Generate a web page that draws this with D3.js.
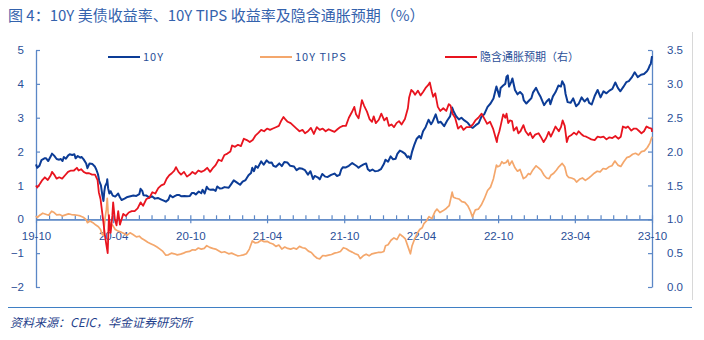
<!DOCTYPE html>
<html><head><meta charset="utf-8">
<script src="https://cdn.jsdelivr.net/npm/d3@7"></script>
<style>
html,body{margin:0;padding:0;background:#fff;}
svg{display:block;}
</style></head>
<body>
<svg id="c" width="704" height="340"></svg>
<script>
// ---- data ----
const titleText = "图 4：10Y 美债收益率、10Y TIPS 收益率及隐含通胀预期（%）";
const sourceText = "资料来源：CEIC，华金证券研究所";
const seriesNames = ["10Y", "10Y TIPS", "隐含通胀预期（右）"];
const xTickLabels = ["19-10","20-04","20-10","21-04","21-10","22-04","22-10","23-04","23-10"];
const leftTicks = [-2,-1,0,1,2,3,4,5];
const rightTicks = [0,0.5,1,1.5,2,2.5,3,3.5];

const tenY = [
["2019-10-01",1.62],["2019-10-04",1.52],["2019-10-09",1.58],["2019-10-14",1.75],["2019-10-21",1.80],["2019-10-25",1.80],["2019-10-30",1.72],["2019-11-05",1.86],["2019-11-08",1.94],["2019-11-13",1.88],["2019-11-19",1.78],["2019-11-25",1.76],["2019-11-29",1.78],["2019-12-03",1.72],["2019-12-06",1.84],["2019-12-11",1.79],["2019-12-16",1.88],["2019-12-20",1.92],["2019-12-26",1.90],["2019-12-31",1.92],
["2020-01-03",1.80],["2020-01-08",1.87],["2020-01-14",1.82],["2020-01-17",1.84],["2020-01-22",1.77],["2020-01-28",1.65],["2020-01-31",1.51],["2020-02-05",1.65],["2020-02-12",1.63],["2020-02-18",1.55],["2020-02-21",1.47],["2020-02-25",1.33],["2020-02-28",1.13],["2020-03-03",1.00],["2020-03-06",0.74],["2020-03-09",0.54],["2020-03-11",0.82],["2020-03-13",0.98],["2020-03-17",1.08],["2020-03-18",1.18],["2020-03-20",0.92],["2020-03-23",0.76],["2020-03-26",0.83],["2020-03-31",0.70],["2020-04-06",0.67],["2020-04-13",0.76],["2020-04-17",0.65],["2020-04-21",0.57],["2020-04-28",0.61],["2020-05-05",0.66],["2020-05-12",0.68],["2020-05-19",0.70],["2020-05-26",0.69],["2020-06-02",0.74],["2020-06-05",0.90],["2020-06-09",0.84],["2020-06-12",0.71],["2020-06-19",0.70],["2020-06-26",0.64],["2020-07-02",0.68],["2020-07-09",0.61],["2020-07-16",0.63],["2020-07-23",0.59],["2020-07-30",0.55],["2020-08-04",0.52],["2020-08-10",0.58],["2020-08-14",0.71],["2020-08-20",0.65],["2020-08-26",0.69],["2020-08-31",0.72],["2020-09-04",0.72],["2020-09-10",0.68],["2020-09-17",0.69],["2020-09-23",0.68],["2020-09-30",0.69],
["2020-10-05",0.78],["2020-10-09",0.78],["2020-10-14",0.73],["2020-10-21",0.82],["2020-10-27",0.77],["2020-10-30",0.87],["2020-11-04",0.76],["2020-11-09",0.96],["2020-11-13",0.89],["2020-11-18",0.87],["2020-11-24",0.88],["2020-11-30",0.84],["2020-12-04",0.97],["2020-12-10",0.91],["2020-12-16",0.92],["2020-12-21",0.95],["2020-12-31",0.93],
["2021-01-06",1.04],["2021-01-12",1.15],["2021-01-19",1.09],["2021-01-27",1.02],["2021-02-02",1.11],["2021-02-09",1.16],["2021-02-16",1.30],["2021-02-22",1.37],["2021-02-25",1.52],["2021-03-01",1.42],["2021-03-05",1.57],["2021-03-10",1.52],["2021-03-18",1.71],["2021-03-24",1.61],["2021-03-31",1.74],["2021-04-06",1.67],["2021-04-12",1.68],["2021-04-16",1.58],["2021-04-22",1.55],["2021-04-30",1.65],["2021-05-06",1.57],["2021-05-12",1.69],["2021-05-19",1.68],["2021-05-26",1.58],["2021-06-04",1.56],["2021-06-10",1.45],["2021-06-17",1.51],["2021-06-24",1.49],["2021-06-30",1.45],["2021-07-07",1.32],["2021-07-13",1.42],["2021-07-19",1.19],["2021-07-23",1.28],["2021-07-30",1.24],["2021-08-04",1.18],["2021-08-10",1.34],["2021-08-17",1.26],["2021-08-23",1.25],["2021-08-31",1.31],["2021-09-08",1.35],["2021-09-14",1.28],["2021-09-20",1.31],["2021-09-24",1.47],["2021-09-28",1.54],
["2021-10-05",1.53],["2021-10-12",1.58],["2021-10-20",1.66],["2021-10-26",1.61],["2021-11-01",1.56],["2021-11-04",1.52],["2021-11-10",1.58],["2021-11-16",1.62],["2021-11-22",1.65],["2021-11-26",1.48],["2021-12-01",1.43],["2021-12-07",1.47],["2021-12-13",1.42],["2021-12-20",1.43],["2021-12-27",1.48],
["2022-01-03",1.63],["2022-01-07",1.76],["2022-01-13",1.70],["2022-01-19",1.86],["2022-01-25",1.77],["2022-01-31",1.79],["2022-02-04",1.93],["2022-02-10",2.03],["2022-02-15",2.00],["2022-02-22",1.94],["2022-02-28",1.83],["2022-03-03",1.86],["2022-03-07",1.78],["2022-03-11",2.00],["2022-03-16",2.19],["2022-03-22",2.38],["2022-03-28",2.46],["2022-04-01",2.39],["2022-04-06",2.60],["2022-04-12",2.72],["2022-04-19",2.94],["2022-04-25",2.81],["2022-04-29",2.89],["2022-05-06",3.10],["2022-05-12",2.85],["2022-05-18",2.88],["2022-05-26",2.75],["2022-06-02",2.91],["2022-06-09",3.04],["2022-06-14",3.30],["2022-06-17",3.20],["2022-06-23",3.05],["2022-06-30",2.95],["2022-07-06",3.00],["2022-07-13",2.92],["2022-07-21",2.85],["2022-07-29",2.72],["2022-08-02",2.70],["2022-08-09",2.78],["2022-08-16",2.84],["2022-08-22",3.02],["2022-08-29",3.10],["2022-09-06",3.32],["2022-09-13",3.42],["2022-09-20",3.57],["2022-09-27",3.92],["2022-09-30",3.80],
["2022-10-04",3.62],["2022-10-07",3.88],["2022-10-13",3.95],["2022-10-18",4.00],["2022-10-21",4.21],["2022-10-24",4.25],["2022-10-27",3.92],["2022-11-01",4.05],["2022-11-04",4.16],["2022-11-10",3.82],["2022-11-16",3.69],["2022-11-22",3.76],["2022-11-28",3.68],["2022-12-01",3.51],["2022-12-07",3.42],["2022-12-13",3.50],["2022-12-19",3.58],["2022-12-23",3.75],["2022-12-30",3.88],
["2023-01-05",3.72],["2023-01-10",3.61],["2023-01-18",3.37],["2023-01-24",3.48],["2023-01-30",3.55],["2023-02-02",3.40],["2023-02-08",3.63],["2023-02-14",3.75],["2023-02-21",3.95],["2023-02-27",3.92],["2023-03-02",4.08],["2023-03-07",3.96],["2023-03-10",3.70],["2023-03-15",3.46],["2023-03-22",3.44],["2023-03-28",3.57],["2023-04-04",3.34],["2023-04-10",3.41],["2023-04-17",3.60],["2023-04-24",3.48],["2023-05-01",3.57],["2023-05-05",3.44],["2023-05-11",3.39],["2023-05-18",3.64],["2023-05-25",3.82],["2023-06-01",3.60],["2023-06-08",3.78],["2023-06-15",3.72],["2023-06-22",3.80],["2023-06-29",3.85],["2023-07-06",4.04],["2023-07-12",3.88],["2023-07-18",3.78],["2023-07-25",3.91],["2023-08-01",4.05],["2023-08-07",4.08],["2023-08-14",4.19],["2023-08-21",4.34],["2023-08-28",4.20],["2023-09-05",4.27],["2023-09-12",4.29],["2023-09-19",4.37],["2023-09-22",4.43],["2023-09-26",4.55],["2023-09-28",4.58],["2023-10-01",4.82]
];

const tips = [
["2019-10-01",0.10],["2019-10-04",0.05],["2019-10-10",0.12],["2019-10-17",0.18],["2019-10-24",0.15],["2019-10-31",0.12],["2019-11-07",0.24],["2019-11-13",0.20],["2019-11-19",0.13],["2019-11-26",0.14],["2019-12-03",0.10],["2019-12-10",0.13],["2019-12-17",0.16],["2019-12-24",0.14],["2019-12-31",0.13],
["2020-01-07",0.12],["2020-01-14",0.10],["2020-01-21",0.06],["2020-01-28",-0.01],["2020-01-31",-0.10],["2020-02-06",-0.05],["2020-02-13",-0.10],["2020-02-20",-0.17],["2020-02-26",-0.22],["2020-03-02",-0.30],["2020-03-06",-0.45],["2020-03-09",-0.47],["2020-03-11",-0.20],["2020-03-13",0.05],["2020-03-16",0.30],["2020-03-18",0.62],["2020-03-20",0.20],["2020-03-23",-0.05],["2020-03-26",-0.15],["2020-03-31",-0.18],["2020-04-06",-0.30],["2020-04-13",-0.35],["2020-04-20",-0.38],["2020-04-27",-0.42],["2020-05-04",-0.47],["2020-05-11",-0.40],["2020-05-18",-0.45],["2020-05-26",-0.52],["2020-06-02",-0.50],["2020-06-08",-0.57],["2020-06-15",-0.62],["2020-06-22",-0.68],["2020-06-29",-0.72],["2020-07-07",-0.77],["2020-07-14",-0.82],["2020-07-21",-0.88],["2020-07-28",-0.95],["2020-08-04",-1.06],["2020-08-10",-1.05],["2020-08-17",-1.00],["2020-08-24",-1.02],["2020-08-31",-1.05],["2020-09-08",-1.03],["2020-09-15",-1.00],["2020-09-22",-0.96],["2020-09-29",-0.95],
["2020-10-06",-0.90],["2020-10-13",-0.91],["2020-10-20",-0.85],["2020-10-27",-0.88],["2020-11-03",-0.86],["2020-11-09",-0.78],["2020-11-16",-0.83],["2020-11-23",-0.86],["2020-11-30",-0.88],["2020-12-07",-0.93],["2020-12-14",-0.98],["2020-12-21",-0.96],["2020-12-31",-1.02],
["2021-01-07",-1.00],["2021-01-14",-1.04],["2021-01-21",-1.08],["2021-01-28",-1.07],["2021-02-04",-1.05],["2021-02-11",-1.02],["2021-02-18",-0.88],["2021-02-25",-0.64],["2021-03-04",-0.70],["2021-03-11",-0.68],["2021-03-18",-0.62],["2021-03-25",-0.66],["2021-04-01",-0.65],["2021-04-08",-0.70],["2021-04-15",-0.73],["2021-04-22",-0.80],["2021-04-29",-0.76],["2021-05-06",-0.88],["2021-05-13",-0.82],["2021-05-20",-0.86],["2021-05-27",-0.88],["2021-06-03",-0.85],["2021-06-10",-0.88],["2021-06-17",-0.80],["2021-06-24",-0.84],["2021-07-01",-0.86],["2021-07-08",-0.94],["2021-07-15",-0.98],["2021-07-22",-1.08],["2021-07-29",-1.15],["2021-08-04",-1.17],["2021-08-11",-1.07],["2021-08-18",-1.08],["2021-08-25",-1.06],["2021-09-01",-1.04],["2021-09-08",-1.00],["2021-09-15",-0.98],["2021-09-22",-0.95],["2021-09-29",-0.84],
["2021-10-06",-0.87],["2021-10-13",-0.93],["2021-10-20",-0.97],["2021-10-27",-1.02],["2021-11-03",-1.05],["2021-11-08",-1.16],["2021-11-15",-1.08],["2021-11-22",-1.03],["2021-11-29",-1.08],["2021-12-06",-1.02],["2021-12-13",-1.00],["2021-12-20",-0.98],["2021-12-27",-0.98],
["2022-01-03",-0.95],["2022-01-07",-0.78],["2022-01-13",-0.75],["2022-01-20",-0.62],["2022-01-27",-0.55],["2022-02-03",-0.60],["2022-02-10",-0.44],["2022-02-16",-0.50],["2022-02-23",-0.58],["2022-03-01",-0.80],["2022-03-07",-1.02],["2022-03-11",-0.78],["2022-03-17",-0.58],["2022-03-23",-0.42],["2022-03-29",-0.30],["2022-04-04",-0.25],["2022-04-08",-0.13],["2022-04-14",-0.05],["2022-04-20",0.08],["2022-04-27",0.02],["2022-05-04",0.22],["2022-05-09",0.30],["2022-05-16",0.20],["2022-05-23",0.25],["2022-05-31",0.32],["2022-06-07",0.40],["2022-06-14",0.80],["2022-06-17",0.65],["2022-06-23",0.62],["2022-06-30",0.60],["2022-07-07",0.52],["2022-07-14",0.50],["2022-07-21",0.40],["2022-07-27",0.25],["2022-08-01",0.07],["2022-08-08",0.28],["2022-08-15",0.30],["2022-08-22",0.42],["2022-08-29",0.60],["2022-09-06",0.85],["2022-09-13",0.95],["2022-09-20",1.20],["2022-09-27",1.60],["2022-09-30",1.55],
["2022-10-05",1.58],["2022-10-10",1.70],["2022-10-14",1.65],["2022-10-20",1.68],["2022-10-24",1.75],["2022-10-28",1.60],["2022-11-03",1.72],["2022-11-10",1.52],["2022-11-16",1.42],["2022-11-22",1.47],["2022-11-30",1.20],["2022-12-06",1.25],["2022-12-12",1.35],["2022-12-16",1.32],["2022-12-22",1.45],["2022-12-30",1.58],
["2023-01-05",1.52],["2023-01-11",1.45],["2023-01-18",1.30],["2023-01-24",1.22],["2023-01-30",1.20],["2023-02-03",1.30],["2023-02-09",1.35],["2023-02-16",1.45],["2023-02-22",1.55],["2023-03-02",1.65],["2023-03-08",1.55],["2023-03-13",1.30],["2023-03-17",1.24],["2023-03-24",1.22],["2023-03-31",1.18],["2023-04-05",1.10],["2023-04-12",1.18],["2023-04-19",1.22],["2023-04-26",1.15],["2023-05-04",1.22],["2023-05-10",1.28],["2023-05-17",1.36],["2023-05-24",1.42],["2023-05-31",1.40],["2023-06-07",1.50],["2023-06-14",1.48],["2023-06-21",1.55],["2023-06-28",1.58],["2023-07-05",1.72],["2023-07-12",1.60],["2023-07-19",1.56],["2023-07-26",1.70],["2023-08-02",1.82],["2023-08-09",1.85],["2023-08-16",1.92],["2023-08-23",1.95],["2023-08-30",1.90],["2023-09-06",2.00],["2023-09-13",2.02],["2023-09-20",2.12],["2023-09-26",2.25],["2023-10-01",2.44]
];

const breakeven = [
["2019-10-01",1.50],["2019-10-04",1.47],["2019-10-10",1.52],["2019-10-16",1.58],["2019-10-22",1.62],["2019-10-29",1.58],["2019-11-05",1.65],["2019-11-08",1.70],["2019-11-13",1.66],["2019-11-19",1.60],["2019-11-25",1.62],["2019-12-02",1.60],["2019-12-09",1.65],["2019-12-16",1.70],["2019-12-23",1.72],["2019-12-30",1.72],
["2020-01-06",1.76],["2020-01-10",1.72],["2020-01-16",1.74],["2020-01-22",1.70],["2020-01-28",1.68],["2020-02-04",1.68],["2020-02-11",1.66],["2020-02-18",1.66],["2020-02-24",1.58],["2020-02-27",1.40],["2020-03-02",1.30],["2020-03-05",1.15],["2020-03-09",0.95],["2020-03-12",0.78],["2020-03-16",0.62],["2020-03-19",0.50],["2020-03-22",1.06],["2020-03-24",0.88],["2020-03-26",0.80],["2020-03-30",1.05],["2020-04-01",1.25],["2020-04-05",1.00],["2020-04-09",0.91],["2020-04-13",1.12],["2020-04-17",0.92],["2020-04-21",1.00],["2020-04-25",1.08],["2020-05-01",1.05],["2020-05-08",1.10],["2020-05-15",1.12],["2020-05-22",1.12],["2020-05-29",1.16],["2020-06-05",1.25],["2020-06-11",1.20],["2020-06-19",1.30],["2020-06-26",1.32],["2020-07-03",1.40],["2020-07-10",1.38],["2020-07-17",1.46],["2020-07-24",1.50],["2020-07-31",1.52],["2020-08-06",1.60],["2020-08-12",1.65],["2020-08-18",1.68],["2020-08-24",1.72],["2020-08-28",1.77],["2020-09-03",1.70],["2020-09-09",1.66],["2020-09-16",1.70],["2020-09-23",1.63],["2020-09-30",1.66],
["2020-10-06",1.70],["2020-10-13",1.67],["2020-10-20",1.72],["2020-10-27",1.70],["2020-11-03",1.72],["2020-11-10",1.76],["2020-11-17",1.70],["2020-11-24",1.76],["2020-11-30",1.80],["2020-12-07",1.88],["2020-12-14",1.86],["2020-12-21",1.95],["2020-12-28",1.97],
["2021-01-04",2.00],["2021-01-08",2.09],["2021-01-15",2.07],["2021-01-22",2.10],["2021-01-29",2.08],["2021-02-05",2.19],["2021-02-12",2.17],["2021-02-19",2.14],["2021-02-26",2.17],["2021-03-05",2.24],["2021-03-12",2.28],["2021-03-18",2.32],["2021-03-25",2.30],["2021-04-01",2.34],["2021-04-08",2.32],["2021-04-15",2.34],["2021-04-22",2.36],["2021-04-29",2.38],["2021-05-05",2.46],["2021-05-10",2.51],["2021-05-14",2.48],["2021-05-20",2.44],["2021-05-27",2.42],["2021-06-03",2.38],["2021-06-10",2.34],["2021-06-17",2.30],["2021-06-24",2.32],["2021-06-30",2.27],["2021-07-07",2.30],["2021-07-14",2.35],["2021-07-21",2.26],["2021-07-28",2.36],["2021-08-04",2.32],["2021-08-11",2.34],["2021-08-18",2.30],["2021-08-25",2.33],["2021-09-01",2.31],["2021-09-08",2.29],["2021-09-15",2.33],["2021-09-21",2.36],["2021-09-28",2.38],
["2021-10-05",2.38],["2021-10-12",2.50],["2021-10-19",2.58],["2021-10-25",2.66],["2021-10-29",2.55],["2021-11-04",2.49],["2021-11-08",2.62],["2021-11-12",2.76],["2021-11-17",2.68],["2021-11-24",2.59],["2021-11-30",2.48],["2021-12-06",2.44],["2021-12-10",2.52],["2021-12-15",2.42],["2021-12-22",2.47],["2021-12-28",2.56],
["2022-01-04",2.46],["2022-01-10",2.50],["2022-01-15",2.38],["2022-01-21",2.40],["2022-01-27",2.36],["2022-02-02",2.42],["2022-02-08",2.45],["2022-02-14",2.40],["2022-02-22",2.48],["2022-03-01",2.64],["2022-03-04",2.80],["2022-03-09",2.91],["2022-03-14",2.88],["2022-03-18",2.84],["2022-03-25",2.90],["2022-03-31",2.83],["2022-04-06",2.88],["2022-04-12",2.94],["2022-04-18",2.98],["2022-04-22",3.02],["2022-04-27",2.88],["2022-04-30",2.81],["2022-05-05",2.86],["2022-05-11",2.66],["2022-05-17",2.60],["2022-05-24",2.64],["2022-05-31",2.60],["2022-06-06",2.70],["2022-06-10",2.68],["2022-06-15",2.56],["2022-06-21",2.50],["2022-06-28",2.34],["2022-07-05",2.38],["2022-07-11",2.32],["2022-07-18",2.36],["2022-07-26",2.36],["2022-08-02",2.40],["2022-08-08",2.46],["2022-08-15",2.50],["2022-08-23",2.56],["2022-08-29",2.49],["2022-09-05",2.41],["2022-09-12",2.44],["2022-09-19",2.34],["2022-09-28",2.14],["2022-09-30",2.22],
["2022-10-04",2.30],["2022-10-07",2.38],["2022-10-13",2.55],["2022-10-18",2.50],["2022-10-21",2.56],["2022-10-25",2.42],["2022-10-29",2.46],["2022-11-03",2.45],["2022-11-07",2.31],["2022-11-14",2.36],["2022-11-18",2.27],["2022-11-23",2.30],["2022-11-30",2.39],["2022-12-05",2.30],["2022-12-12",2.24],["2022-12-16",2.28],["2022-12-22",2.20],["2022-12-28",2.25],
["2023-01-05",2.27],["2023-01-10",2.22],["2023-01-17",2.14],["2023-01-23",2.20],["2023-01-29",2.29],["2023-02-03",2.22],["2023-02-09",2.30],["2023-02-14",2.37],["2023-02-22",2.30],["2023-02-27",2.36],["2023-03-03",2.46],["2023-03-08",2.38],["2023-03-13",2.14],["2023-03-17",2.22],["2023-03-23",2.24],["2023-03-30",2.28],["2023-04-05",2.25],["2023-04-10",2.30],["2023-04-16",2.26],["2023-04-22",2.23],["2023-04-28",2.22],["2023-05-04",2.20],["2023-05-10",2.18],["2023-05-18",2.17],["2023-05-25",2.22],["2023-06-01",2.21],["2023-06-08",2.22],["2023-06-15",2.18],["2023-06-22",2.21],["2023-06-29",2.20],["2023-07-06",2.23],["2023-07-13",2.19],["2023-07-19",2.22],["2023-07-24",2.37],["2023-07-31",2.35],["2023-08-05",2.37],["2023-08-13",2.31],["2023-08-19",2.34],["2023-08-25",2.34],["2023-09-01",2.30],["2023-09-06",2.27],["2023-09-12",2.30],["2023-09-18",2.37],["2023-09-24",2.35],["2023-09-30",2.34],["2023-10-01",2.29]
];

// ---- drawing ----
const parse = d3.timeParse("%Y-%m-%d");
const svg = d3.select("#c");
const plot = {left: 36, right: 652, top: 50, bottom: 287};
const blueText = "#2a4f98";
const axisCol = "#5b87c6";
const colors = ["#0c3c96", "#f4a76c", "#e8141f"];

const x = d3.scaleTime().domain([parse("2019-10-01"), parse("2023-10-01")]).range([plot.left, plot.right]);
const yL = d3.scaleLinear().domain([-2, 5]).range([plot.bottom, plot.top]);
const yR = d3.scaleLinear().domain([0, 3.5]).range([plot.bottom, plot.top]);

// title
svg.append("text").attr("x", 8).attr("y", 21)
  .attr("font-family", "'Noto Sans CJK SC', sans-serif").attr("font-size", 15)
  .attr("fill", "#3462ad").text(titleText);

// frame line at right
svg.append("line").attr("x1", 692.5).attr("x2", 692.5).attr("y1", 32).attr("y2", 300)
  .attr("stroke", "#d8d8d8").attr("stroke-width", 1);

// left axis
const gL = svg.append("g").attr("transform", `translate(${plot.left},0)`)
  .call(d3.axisLeft(yL).tickValues(leftTicks).tickSizeInner(-4).tickSizeOuter(0).tickPadding(12).tickFormat(d3.format("d")));
// right axis
const gR = svg.append("g").attr("transform", `translate(${plot.right},0)`)
  .call(d3.axisRight(yR).tickValues(rightTicks).tickSizeInner(-4).tickSizeOuter(0).tickPadding(15).tickFormat(d3.format(".1f")));

// x axis at zero
const majorDates = xTickLabels.map(s => d3.timeParse("%y-%m")(s));
const minorDates = d3.timeMonth.range(parse("2019-10-01"), parse("2023-10-02"));
const gXm = svg.append("g").attr("transform", `translate(0,${yL(0)})`)
  .call(d3.axisBottom(x).tickValues(minorDates).tickSizeInner(-4).tickSizeOuter(0).tickFormat(""));
const gX = svg.append("g").attr("transform", `translate(0,${yL(0)})`)
  .call(d3.axisBottom(x).tickValues(majorDates).tickSizeInner(4).tickSizeOuter(0).tickPadding(6)
    .tickFormat((d, i) => xTickLabels[i]));

[gL, gR, gX, gXm].forEach(g => {
  g.selectAll("path.domain").attr("stroke", axisCol).attr("stroke-width", 1.3);
  g.selectAll(".tick line").attr("stroke", axisCol).attr("stroke-width", 1.2);
  g.selectAll(".tick text").attr("fill", blueText)
    .attr("font-family", "'Liberation Sans', Arial, sans-serif").attr("font-size", 11.5);
});
gX.selectAll(".tick text").attr("dy", "0.9em");

// lines
const toPts = arr => arr.map(d => [parse(d[0]), d[1]]);
const lineL = d3.line().x(d => x(d[0])).y(d => yL(d[1]));
const lineR = d3.line().x(d => x(d[0])).y(d => yR(d[1]));
svg.append("path").datum(toPts(tips)).attr("d", lineL).attr("fill", "none")
  .attr("stroke", colors[1]).attr("stroke-width", 1.7).attr("stroke-linejoin", "round");
svg.append("path").datum(toPts(tenY)).attr("d", lineL).attr("fill", "none")
  .attr("stroke", colors[0]).attr("stroke-width", 2).attr("stroke-linejoin", "round");
svg.append("path").datum(toPts(breakeven)).attr("d", lineR).attr("fill", "none")
  .attr("stroke", colors[2]).attr("stroke-width", 1.8).attr("stroke-linejoin", "round");

// legend
const legendX = [108, 260, 445];
seriesNames.forEach((name, i) => {
  const g = svg.append("g").attr("transform", `translate(${legendX[i]},57)`);
  g.append("line").attr("x1", 0).attr("x2", 32).attr("y1", 0).attr("y2", 0)
    .attr("stroke", colors[i]).attr("stroke-width", 2);
  g.append("text").attr("x", 35).attr("y", 4).attr("fill", blueText)
    .attr("font-family", "'Noto Sans CJK SC', sans-serif").attr("font-size", 11)
    .attr("letter-spacing", i < 2 ? 1 : 0).text(name);
});

// source
svg.append("line").attr("x1", 8).attr("x2", 692).attr("y1", 307.5).attr("y2", 307.5)
  .attr("stroke", "#3f7fc4").attr("stroke-width", 1.2);
svg.append("text").attr("x", 10).attr("y", 327)
  .attr("font-family", "'Noto Sans CJK SC', sans-serif").attr("font-size", 12)
  .attr("font-style", "italic").attr("fill", "#1f3f8c").text(sourceText);
</script>
</body></html>
